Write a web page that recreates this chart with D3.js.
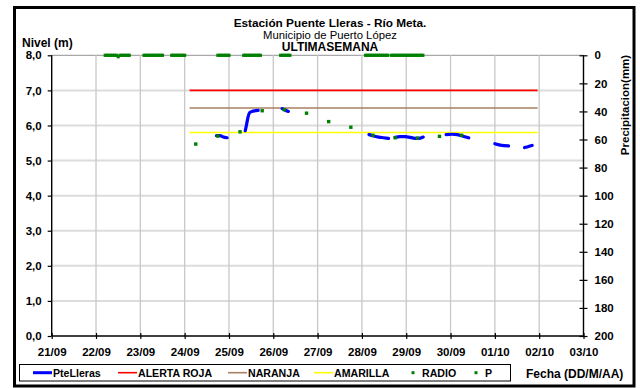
<!DOCTYPE html>
<html><head><meta charset="utf-8">
<script src="https://cdn.jsdelivr.net/npm/d3@7"></script>
<style>body{margin:0;background:#fff}svg{display:block;font-family:"Liberation Sans",Arial,sans-serif}</style>
</head><body>
<svg id="c" width="640" height="388"></svg>
<script>
// ---------- DATA ----------
const titleLines = ["Estación Puente Lleras - Río Meta.", "Municipio de Puerto López", "ULTIMASEMANA"];
const dayTicks = ["21/09","22/09","23/09","24/09","25/09","26/09","27/09","28/09","29/09","30/09","01/10","02/10","03/10"];
const levelTicks = [0,1,2,3,4,5,6,7,8];
const precipTicks = [0,20,40,60,80,100,120,140,160,180,200];
const thresholdNames = ["ALERTA ROJA","NARANJA","AMARILLA"];
const thresholdValues = [7.0, 6.5, 5.8];
const thresholdColors = ["#ff0000","#a98063","#ffff00"];
const thresholdSpan = ["24/09 02:40","01/10 23:10"];

// PteLleras level (m); null = gap in record
const nivel = [
 ["24/09 17:15",5.71],["24/09 19:10",5.71],["24/09 20:55",5.67],["24/09 23:00",5.65],
 ["25/09 04:00",null],
 ["25/09 08:50",5.85],["25/09 09:35",6.04],["25/09 10:20",6.24],["25/09 11:15",6.37],["25/09 13:10",6.41],["25/09 15:50",6.43],
 ["25/09 23:00",null],
 ["26/09 04:50",6.48],["26/09 06:15",6.44],["26/09 08:10",6.40],
 ["27/09 12:00",null],
 ["28/09 03:50",5.74],["28/09 06:15",5.70],["28/09 09:05",5.67],["28/09 11:45",5.65],["28/09 14:25",5.63],
 ["28/09 16:00",null],
 ["28/09 18:00",5.66],["28/09 20:40",5.68],["28/09 23:30",5.68],["29/09 02:10",5.66],["29/09 05:30",5.63],["29/09 07:40",5.64],["29/09 09:10",5.67],
 ["29/09 15:00",null],
 ["29/09 21:35",5.74],["30/09 00:45",5.75],["30/09 03:35",5.74],["30/09 06:15",5.70],["30/09 09:50",5.65],
 ["30/09 18:00",null],
 ["01/10 00:00",5.48],["01/10 02:55",5.44],["01/10 07:25",5.42],
 ["01/10 12:00",null],
 ["01/10 16:05",5.37],["01/10 18:15",5.40],["01/10 20:10",5.43]
];

// RADIO readings (m)
const radio = [
 ["24/09 06:00",5.47],["24/09 18:00",5.70],["25/09 06:00",5.82],["25/09 18:00",6.42],
 ["26/09 06:00",6.45],["26/09 18:00",6.35],["27/09 06:00",6.11],["27/09 18:00",5.95],
 ["28/09 06:00",5.72],["28/09 18:00",5.65],["29/09 06:00",5.64],["29/09 18:00",5.69],["30/09 06:00",5.72]
];

// P precipitation (mm), hourly records
const precip = [
 ["22/09 05:00",0],["22/09 06:00",0],["22/09 07:00",0],["22/09 08:00",0],["22/09 09:00",0],["22/09 10:00",0],["22/09 11:00",0],
 ["22/09 12:00",1],["22/09 13:00",0],["22/09 14:00",0],["22/09 15:00",0],["22/09 16:00",0],["22/09 17:00",0],["22/09 18:00",0],
 ["23/09 02:00",0],["23/09 03:00",0],["23/09 04:00",0],["23/09 05:00",0],["23/09 06:00",0],["23/09 07:00",0],["23/09 08:00",0],
 ["23/09 09:00",0],["23/09 10:00",0],["23/09 11:00",0],["23/09 12:00",0],
 ["23/09 17:00",0],["23/09 18:00",0],["23/09 19:00",0],["23/09 20:00",0],["23/09 21:00",0],["23/09 22:00",0],["23/09 23:00",0],["24/09 00:00",0],
 ["24/09 18:00",0],["24/09 19:00",0],["24/09 20:00",0],["24/09 21:00",0],["24/09 22:00",0],["24/09 23:00",0],["25/09 00:00",0],
 ["25/09 08:00",0],["25/09 09:00",0],["25/09 10:00",0],["25/09 11:00",0],["25/09 12:00",0],["25/09 13:00",0],["25/09 14:00",0],
 ["25/09 15:00",0],["25/09 16:00",0],["25/09 17:00",0],
 ["26/09 04:00",0],["26/09 05:00",0],["26/09 06:00",0],["26/09 07:00",0],["26/09 08:00",0],["26/09 09:00",0],
 ["28/09 02:00",0],["28/09 03:00",0],["28/09 04:00",0],["28/09 05:00",0],["28/09 06:00",0],["28/09 07:00",0],["28/09 08:00",0],
 ["28/09 09:00",0],["28/09 10:00",0],["28/09 11:00",0],["28/09 12:00",0],["28/09 13:00",0],["28/09 14:00",0],
 ["28/09 16:00",0],["28/09 17:00",0],["28/09 18:00",0],["28/09 19:00",0],["28/09 20:00",0],["28/09 21:00",0],["28/09 22:00",0],
 ["28/09 23:00",0],["29/09 00:00",0],["29/09 01:00",0],["29/09 02:00",0],["29/09 03:00",0],["29/09 04:00",0],["29/09 05:00",0],
 ["29/09 06:00",0],["29/09 07:00",0],["29/09 08:00",0],["29/09 09:00",0]
];

// ---------- DRAW ----------
const parse = s => d3.timeParse("%Y %d/%m %H:%M")("2011 " + s);
const svg = d3.select("#c");
svg.append("rect").attr("width",640).attr("height",388).attr("fill","#fff");

const L = 51.7, R = 583.5, T = 55.3, B = 336;
const x = d3.scaleTime().domain([parse(dayTicks[0]+" 00:00"), parse(dayTicks[dayTicks.length-1]+" 00:00")]).range([L,R]);
const yL = d3.scaleLinear().domain([0,8]).range([B,T]);
const yR = d3.scaleLinear().domain([0,200]).range([T,B]);

// grid
svg.append("g").selectAll("line").data(levelTicks.filter(v=>v>0)).join("line")
  .attr("x1",L).attr("x2",R).attr("y1",d=>yL(d)).attr("y2",d=>yL(d))
  .attr("stroke", d=> d===8 ? "#a8a8a8" : "#dcdcdc").attr("stroke-width", d=> d===8 ? 1.2 : 2);
svg.append("g").selectAll("line").data(dayTicks.slice(1,-1)).join("line")
  .attr("x1",d=>x(parse(d+" 00:00"))).attr("x2",d=>x(parse(d+" 00:00")))
  .attr("y1",T).attr("y2",B).attr("stroke","#c8c8c8").attr("stroke-width",1.3);

// axes
const fmtL = d => d.toFixed(1).replace(".", ",");
const axL = svg.append("g").attr("transform",`translate(${L},0)`)
  .call(d3.axisLeft(yL).tickValues(levelTicks).tickFormat(fmtL).tickSize(4).tickPadding(6));
const axR = svg.append("g").attr("transform",`translate(${R},0)`)
  .call(d3.axisRight(yR).tickValues(precipTicks).tickSize(4).tickPadding(7));
axR.selectAll(".tick line").attr("x1",-4).attr("x2",4);
const axB = svg.append("g").attr("transform",`translate(0,${B})`)
  .call(d3.axisBottom(x).tickValues(dayTicks.map(d=>parse(d+" 00:00"))).tickFormat(d3.timeFormat("%d/%m")).tickSize(3).tickPadding(9));
axB.selectAll(".tick line").attr("y1",-3).attr("y2",3);
[axL,axR,axB].forEach(a=>{
  a.select(".domain").remove();
  a.selectAll(".tick line").attr("stroke","#000").attr("stroke-width",1.2);
  a.selectAll("text").attr("font-family","Liberation Sans, Arial, sans-serif")
   .attr("font-size",11.5).attr("font-weight","bold").attr("fill","#000");
});
svg.append("line").attr("x1",L).attr("x2",L).attr("y1",T).attr("y2",B).attr("stroke","#000").attr("stroke-width",1.4);
svg.append("line").attr("x1",R).attr("x2",R).attr("y1",T).attr("y2",B).attr("stroke","#000").attr("stroke-width",1.4);
svg.append("line").attr("x1",L).attr("x2",R).attr("y1",B).attr("y2",B).attr("stroke","#000").attr("stroke-width",1.4);

// thresholds
svg.append("g").selectAll("line").data(thresholdValues).join("line")
  .attr("x1",x(parse(thresholdSpan[0]))).attr("x2",x(parse(thresholdSpan[1])))
  .attr("y1",d=>yL(d)).attr("y2",d=>yL(d))
  .attr("stroke",(d,i)=>thresholdColors[i]).attr("stroke-width",1.6);

// precipitation markers
svg.append("g").selectAll("rect").data(precip).join("rect")
  .attr("x",d=>x(parse(d[0]))-1.6).attr("y",d=>yR(d[1])-1.6)
  .attr("width",3.2).attr("height",3.2).attr("fill","#008000");

// level line
const line = d3.line().defined(d=>d[1]!=null).x(d=>x(parse(d[0]))).y(d=>yL(d[1])).curve(d3.curveMonotoneX);
svg.append("path").datum(nivel).attr("d",line).attr("fill","none")
  .attr("stroke","#0000ff").attr("stroke-width",3.2).attr("stroke-linecap","round").attr("stroke-linejoin","round");

// radio markers
svg.append("g").selectAll("rect").data(radio).join("rect")
  .attr("x",d=>x(parse(d[0]))-1.7).attr("y",d=>yL(d[1])-1.7)
  .attr("width",3.4).attr("height",3.4).attr("fill","#008000");

// titles
const tl = svg.append("g").attr("fill","#000").attr("text-anchor","middle");
tl.append("text").attr("x",330).attr("y",27).attr("font-size",11.8).attr("font-weight","bold").text(titleLines[0]);
tl.append("text").attr("x",330).attr("y",38.5).attr("font-size",11.3).text(titleLines[1]);
tl.append("text").attr("x",330).attr("y",50.5).attr("font-size",12).attr("font-weight","bold").text(titleLines[2]);
svg.append("text").attr("x",22).attr("y",47).attr("font-size",12).attr("font-weight","bold").text("Nivel (m)");
svg.append("text").attr("transform","translate(629,105) rotate(-90)").attr("text-anchor","middle")
  .attr("font-size",11.5).attr("font-weight","bold").text("Precipitacion(mm)");
svg.append("text").attr("x",526).attr("y",377.5).attr("font-size",12).attr("font-weight","bold").text("Fecha (DD/M/AA)");

// legend
svg.append("rect").attr("x",19.5).attr("y",364.5).attr("width",491).attr("height",16.5)
  .attr("fill","#fff").attr("stroke","#000").attr("stroke-width",1);
const ly = 372.7;
const lineItems = [["PteLleras","#0000ff",33,3],[thresholdNames[0],thresholdColors[0],118,1.6],[thresholdNames[1],thresholdColors[1],228,1.6],[thresholdNames[2],thresholdColors[2],314,1.6]];
const lg = svg.append("g").attr("font-size",10.6).attr("font-weight","bold");
lineItems.forEach(([name,col,lx,w])=>{
  lg.append("line").attr("x1",lx).attr("x2",lx+19).attr("y1",ly).attr("y2",ly).attr("stroke",col).attr("stroke-width",w);
  lg.append("text").attr("x",lx+20).attr("y",ly+3.8).text(name);
});
[["RADIO",413],["P",476]].forEach(([name,lx])=>{
  lg.append("rect").attr("x",lx-1.5).attr("y",ly-1.5).attr("width",3).attr("height",3).attr("fill","#008000");
  lg.append("text").attr("x",lx+9).attr("y",ly+3.8).text(name);
});

// outer frame
svg.append("rect").attr("x",14.5).attr("y",7.5).attr("width",619.5).attr("height",378.5)
  .attr("fill","none").attr("stroke","#000").attr("stroke-width",3);
</script>
</body></html>
